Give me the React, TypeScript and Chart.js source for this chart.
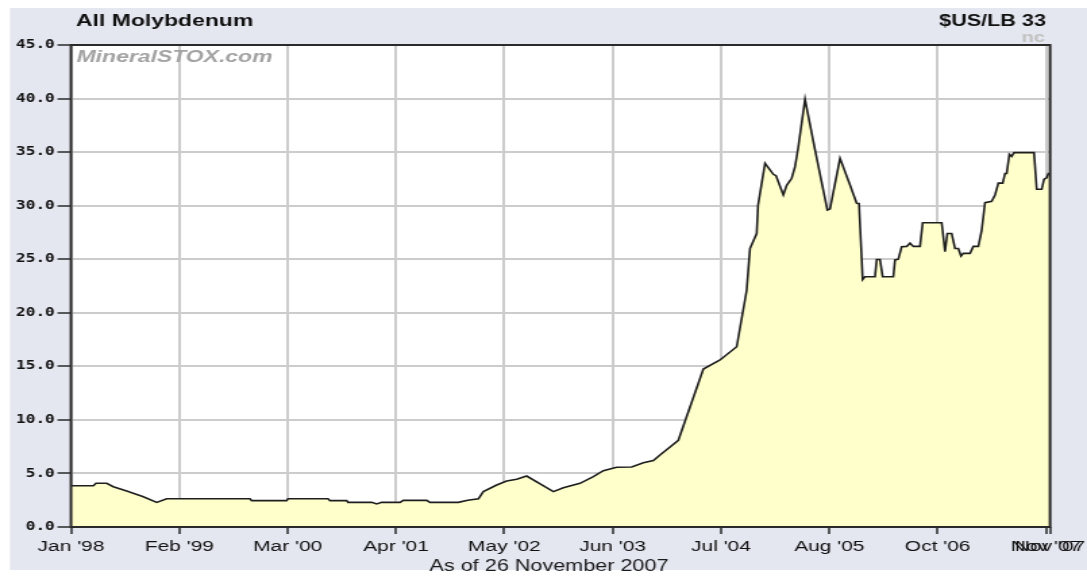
import React, { useEffect, useRef } from "react";
import { Chart, registerables } from "chart.js";

Chart.register(...registerables);

// The original picture is horizontally stretched: draw narrower, then scale in X.
const S = 1087 / 805;
const CW = 805;
const CH = 577;

const chartTitle = "All Molybdenum";
const unitLabel = "$US/LB 33";
const changeLabel = "nc";
const watermark = "MineralSTOX.com";
const asOfLabel = "As of 26 November 2007";

// x: months since Jan 1998 (as spaced on the chart), y: price in $US/lb
const monthsSinceJan98 = [
  0, 2.68, 3.0, 4.28, 5.08, 6.68, 8.68, 10.28, 11.48, 21.48, 21.68, 25.88, 26.04,
  30.84, 31.08, 33.08, 33.24, 36.08, 36.68, 37.28, 39.48, 39.88, 42.68, 43.08,
  46.48, 47.6, 48.9, 49.48, 51.08, 52.28, 53.48, 54.68, 57.88, 59.08, 61.08, 62.68,
  63.88, 65.48, 67.28, 68.68, 69.88, 70.68, 72.88, 75.88, 77.88, 79.88, 81.08,
  81.48, 82.28, 82.44, 83.28, 84.28, 84.6, 85.48, 85.88, 86.48, 86.88, 87.28,
  88.08, 89.28, 90.76, 91.08, 92.28, 93.48, 94.28, 94.56, 95.0, 95.28, 96.48,
  96.68, 97.08, 97.4, 98.68, 98.88, 99.28, 99.68, 100.28, 100.68, 101.08, 101.88,
  102.2, 104.48, 104.88, 105.16, 105.68, 106.08, 106.48, 106.8, 107.08, 107.88,
  108.28, 108.88, 109.28, 109.68, 110.48, 110.88, 111.28, 111.8, 112.08, 112.28,
  112.6, 112.88, 113.16, 115.56, 115.88, 116.48, 116.76, 117.08, 117.28, 117.48,
];
const pricesUsdPerLb = [
  3.85, 3.85, 4.08, 4.08, 3.76, 3.36, 2.83, 2.3, 2.64, 2.64, 2.46, 2.46, 2.64,
  2.64, 2.46, 2.46, 2.3, 2.3, 2.15, 2.3, 2.3, 2.49, 2.49, 2.3,
  2.3, 2.5, 2.64, 3.3, 3.92, 4.3, 4.45, 4.76, 3.3, 3.67, 4.08, 4.7,
  5.26, 5.58, 5.6, 6.0, 6.2, 6.72, 8.1, 14.75, 15.59, 16.83, 22.1,
  26.0, 27.4, 30.0, 33.96, 32.93, 32.8, 31.0, 31.9, 32.56, 33.64, 35.5,
  39.93, 35.2, 29.6, 29.7, 34.42, 31.93, 30.22, 30.2, 23.1, 23.37, 23.37,
  24.97, 24.97, 23.37, 23.37, 24.93, 25.0, 26.17, 26.2, 26.5, 26.2, 26.2,
  28.4, 28.4, 25.7, 27.4, 27.4, 26.0, 26.0, 25.3, 25.55, 25.55,
  26.2, 26.2, 27.7, 30.28, 30.4, 31.0, 32.1, 32.1, 33.0, 33.0,
  34.8, 34.6, 34.95, 34.95, 31.53, 31.53, 32.46, 32.6, 33.0, 33.0,
];

const xTickMonths = [0, 13, 26, 39, 52, 65, 78, 91, 104, 117, 117.48];
const xTickLabels = [
  "Jan '98", "Feb '99", "Mar '00", "Apr '01", "May '02", "Jun '03",
  "Jul '04", "Aug '05", "Oct '06", "Nov '07", "Nov '07",
];
const yMin = 0;
const yMax = 45;
const yStep = 5;

const decorPlugin = {
  id: "decor",
  beforeDraw(chart: any) {
    const { ctx, chartArea: a } = chart;
    ctx.save();
    ctx.fillStyle = "#ffffff";
    ctx.fillRect(0, 0, CW, CH);
    ctx.fillStyle = "#e4e6f0";
    ctx.fillRect(10 / S, 8, CW - 10 / S, 562);
    ctx.fillStyle = "#ffffff";
    ctx.fillRect(a.left, a.top, a.right - a.left, a.bottom - a.top);
    ctx.restore();
  },
  beforeDatasetsDraw(chart: any) {
    const { ctx } = chart;
    ctx.save();
    ctx.font = "bold italic 17px 'Liberation Sans', Arial, sans-serif";
    ctx.fillStyle = "#a3a3a3";
    ctx.textAlign = "left";
    ctx.textBaseline = "alphabetic";
    ctx.fillText(watermark, 76.5 / S, 62);
    ctx.restore();
  },
  afterDatasetsDraw(chart: any) {
    const { ctx, chartArea: a } = chart;
    ctx.save();
    ctx.strokeStyle = "#2a2a2a";
    ctx.lineWidth = 2;
    ctx.strokeRect(a.left, a.top, a.right - a.left, a.bottom - a.top);
    ctx.restore();
  },
  afterDraw(chart: any) {
    const { ctx } = chart;
    ctx.save();
    ctx.textBaseline = "alphabetic";
    ctx.fillStyle = "#111111";
    ctx.font = "bold 17px 'Liberation Sans', Arial, sans-serif";
    ctx.textAlign = "left";
    ctx.fillText(chartTitle, 76 / S, 26);
    ctx.font = "bold 16px 'Liberation Sans', Arial, sans-serif";
    ctx.textAlign = "right";
    ctx.fillText(unitLabel, 1046 / S, 26);
    ctx.fillStyle = "#c2c2c2";
    ctx.font = "bold 15px 'Liberation Sans', Arial, sans-serif";
    ctx.fillText(changeLabel, 1045 / S, 42);
    ctx.fillStyle = "#1a1a1a";
    ctx.font = "16px 'Liberation Sans', Arial, sans-serif";
    ctx.textAlign = "center";
    ctx.fillText(asOfLabel, 549 / S, 571);
    ctx.restore();
  },
};

export default function App() {
  const canvasRef = useRef<HTMLCanvasElement | null>(null);

  useEffect(() => {
    const canvas = canvasRef.current;
    if (!canvas) return;
    const points = monthsSinceJan98.map((m, i) => ({ x: m, y: pricesUsdPerLb[i] }));
    const chart = new Chart(canvas, {
      type: "line",
      data: {
        datasets: [
          {
            label: chartTitle,
            data: points,
            borderColor: "#1e1e1e",
            borderWidth: 1.6,
            backgroundColor: "#ffffcc",
            fill: "origin",
            pointRadius: 0,
            tension: 0,
          },
        ],
      },
      options: {
        animation: false,
        responsive: true,
        maintainAspectRatio: false,
        devicePixelRatio: 1,
        layout: { padding: { top: 45, left: 0, right: CW - 1050 / S, bottom: 0 } },
        plugins: {
          legend: { display: false },
          title: { display: false },
          tooltip: { enabled: false },
        },
        scales: {
          x: {
            type: "linear",
            min: xTickMonths[0],
            max: xTickMonths[xTickMonths.length - 1],
            afterBuildTicks: (axis: any) => {
              axis.ticks = xTickMonths.map((v) => ({ value: v }));
            },
            afterFit: (scale: any) => {
              scale.height = CH - 527;
              scale.paddingLeft = 0;
              scale.paddingRight = 0;
            },
            ticks: {
              autoSkip: false,
              maxRotation: 0,
              minRotation: 0,
              padding: 3,
              color: "#111111",
              font: { family: "'Liberation Sans', Arial, sans-serif", size: 15.5 },
              callback: (_v: any, i: number) => xTickLabels[i],
            },
            grid: {
              color: "#cccccc",
              lineWidth: 2,
              tickColor: "#2a2a2a",
              tickWidth: 1.5,
              tickLength: 7,
            },
            border: { display: false },
          },
          y: {
            type: "linear",
            min: yMin,
            max: yMax,
            afterFit: (scale: any) => {
              scale.width = 71 / S;
              scale.paddingTop = 0;
              scale.paddingBottom = 0;
            },
            ticks: {
              stepSize: yStep,
              padding: 2,
              color: "#111111",
              font: { family: "'DejaVu Sans Mono', monospace", size: 12, weight: "bold" },
              callback: (v: any) => Number(v).toFixed(1),
            },
            grid: {
              color: "#cccccc",
              lineWidth: 2,
              tickColor: "#2a2a2a",
              tickWidth: 1.5,
              tickLength: 10,
            },
            border: { display: false },
          },
        },
      },
      plugins: [decorPlugin],
    });
    return () => chart.destroy();
  }, []);

  return (
    <div
      style={{
        position: "absolute",
        left: 0,
        top: 0,
        width: 1087,
        height: 577,
        overflow: "hidden",
        background: "#ffffff",
      }}
    >
      <div
        style={{
          position: "absolute",
          left: 0,
          top: 0,
          width: CW,
          height: CH,
          transform: `scaleX(${S})`,
          transformOrigin: "0 0",
        }}
      >
        <canvas ref={canvasRef} />
      </div>
    </div>
  );
}
